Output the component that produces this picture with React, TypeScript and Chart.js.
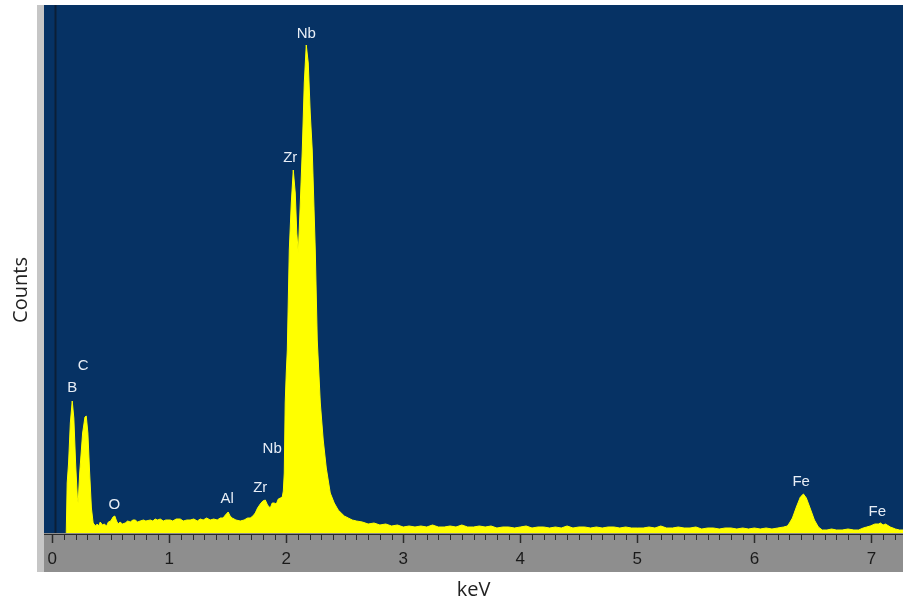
import React, { useEffect, useRef } from "react";
import { Chart, registerables } from "chart.js";

Chart.register(...registerables);

// Spectrum: energy (keV) and counts
const energyKeV: number[] = [
  0.12, 0.128, 0.14, 0.155, 0.171, 0.185, 0.2, 0.215, 0.222, 0.235, 0.26, 0.28, 0.291, 0.305, 0.32, 0.335, 0.35,
  0.37, 0.385, 0.4, 0.41, 0.43, 0.444, 0.465, 0.48, 0.5, 0.52, 0.535, 0.55, 0.564, 0.58, 0.6, 0.624, 0.645, 0.667,
  0.69, 0.709, 0.73, 0.752, 0.78, 0.8, 0.838, 0.86, 0.88, 0.9, 0.923, 0.95, 0.97, 1.009, 1.03, 1.06, 1.094, 1.12,
  1.15, 1.179, 1.21, 1.24, 1.265, 1.29, 1.32, 1.35, 1.38, 1.41, 1.436, 1.46, 1.48, 1.504, 1.52, 1.538, 1.57, 1.607,
  1.64, 1.67, 1.692, 1.715, 1.735, 1.755, 1.778, 1.8, 1.821, 1.84, 1.863, 1.88, 1.897, 1.915, 1.932, 1.95, 1.966,
  1.975, 1.983, 1.991, 2.0, 2.009, 2.026, 2.043, 2.06, 2.077, 2.09, 2.103, 2.12, 2.137, 2.154, 2.171, 2.188, 2.205,
  2.222, 2.248, 2.265, 2.291, 2.316, 2.342, 2.376, 2.41, 2.444, 2.47, 2.496, 2.53, 2.564, 2.6, 2.65, 2.7, 2.75, 2.8,
  2.85, 2.9, 2.95, 3.0, 3.05, 3.1, 3.15, 3.2, 3.25, 3.3, 3.35, 3.4, 3.45, 3.5, 3.55, 3.6, 3.65, 3.7, 3.75, 3.8, 3.85,
  3.9, 3.95, 4.0, 4.05, 4.1, 4.15, 4.2, 4.25, 4.3, 4.35, 4.4, 4.45, 4.5, 4.55, 4.6, 4.65, 4.7, 4.75, 4.8, 4.85, 4.9,
  4.95, 5.0, 5.05, 5.1, 5.15, 5.2, 5.25, 5.3, 5.35, 5.4, 5.45, 5.5, 5.55, 5.6, 5.65, 5.7, 5.75, 5.8, 5.85, 5.9, 5.95,
  6.0, 6.05, 6.1, 6.15, 6.2, 6.25, 6.282, 6.3, 6.325, 6.359, 6.393, 6.419, 6.444, 6.479, 6.513, 6.547, 6.58, 6.62,
  6.66, 6.7, 6.75, 6.8, 6.85, 6.89, 6.93, 6.96, 6.99, 7.03, 7.06, 7.077, 7.1, 7.12, 7.162, 7.205, 7.24, 7.27,
];

const counts: number[] = [
  0, 500, 700, 1100, 1320, 1150, 700, 350, 300, 600, 1000, 1160, 1170, 1000, 600, 250, 100,
  70, 90, 70, 110, 80, 90, 70, 110, 120, 160, 170, 120, 90, 110, 90, 100, 120, 110,
  130, 130, 110, 120, 130, 120, 130, 120, 140, 130, 140, 120, 130, 130, 120, 140, 140, 120,
  130, 130, 140, 120, 140, 130, 150, 130, 140, 130, 150, 150, 180, 210, 170, 150, 130, 120,
  130, 150, 150, 170, 200, 250, 290, 320, 330, 280, 250, 300, 300, 290, 340, 350, 360,
  420, 600, 1300, 1600, 1830, 2830, 3300, 3630, 3400, 3000, 2800, 3300, 3830, 4500, 4880, 4700, 4200,
  3830, 2830, 1930, 1300, 930, 650, 400, 300, 230, 200, 170, 150, 130, 120, 110, 90, 100, 80,
  90, 70, 80, 60, 70, 60, 70, 60, 80, 60, 60, 70, 60, 80, 60, 60, 70, 60, 70, 50, 60,
  60, 50, 60, 70, 50, 60, 60, 50, 60, 50, 70, 50, 60, 60, 50, 60, 50, 60, 60, 50, 60,
  50, 50, 50, 60, 50, 70, 50, 50, 60, 50, 50, 60, 40, 50, 50, 40, 50, 50, 40, 50, 40,
  50, 40, 50, 40, 50, 60, 70, 100, 150, 260, 360, 390, 350, 240, 130, 60, 30, 30,
  40, 30, 30, 40, 30, 30, 50, 60, 70, 90, 90, 100, 80, 90, 60, 40, 30, 30,
];

// Peak annotations
const peakNames: string[] = ["B", "C", "O", "Al", "Zr", "Nb", "Zr", "Nb", "Fe", "Fe"];
const peakKeV: number[] = [0.171, 0.265, 0.53, 1.496, 1.778, 1.88, 2.034, 2.171, 6.4, 7.05];
const peakLabelCounts: number[] = [1450, 1670, 280, 340, 450, 840, 3750, 4990, 510, 210];

// Axis ticks
const xMajorTicks: number[] = [0, 1, 2, 3, 4, 5, 6, 7];
const xMin = -0.07;
const xMax = 7.27;
const yMax = 5280;

const BLUE = "#063264";
const YELLOW = "#ffff00";

const decorPlugin = {
  id: "decor",
  beforeDraw(chart: any) {
    const { ctx, chartArea: a } = chart;
    ctx.save();
    ctx.fillStyle = "#c6c6c6";
    ctx.fillRect(a.left - 7, a.top, 7, a.bottom + 39 - a.top);
    ctx.fillStyle = BLUE;
    ctx.fillRect(a.left, a.top, a.right - a.left, a.bottom - a.top);
    ctx.fillStyle = "#8e8e8e";
    ctx.fillRect(a.left, a.bottom, a.right - a.left, 39);
    ctx.restore();
  },
  beforeDatasetsDraw(chart: any) {
    const { ctx, chartArea: a, scales } = chart;
    const px = Math.round(scales.x.getPixelForValue(0.025)) + 0.5;
    ctx.save();
    ctx.strokeStyle = "#0b1e36";
    ctx.lineWidth = 2;
    ctx.beginPath();
    ctx.moveTo(px, a.top);
    ctx.lineTo(px, a.bottom);
    ctx.stroke();
    ctx.restore();
  },
  afterDraw(chart: any) {
    const { ctx, chartArea: a, scales } = chart;
    const x = scales.x;
    const y = scales.y;
    ctx.save();
    // tick marks
    ctx.strokeStyle = "#2a2a2a";
    ctx.lineWidth = 1;
    ctx.beginPath();
    ctx.moveTo(a.left, a.bottom + 1.5);
    ctx.lineTo(a.right, a.bottom + 1.5);
    ctx.stroke();
    for (let i = 0; i <= 72; i++) {
      const v = i / 10;
      const px = Math.round(x.getPixelForValue(v)) + 0.5;
      if (px < a.left || px > a.right) continue;
      const major = i % 10 === 0;
      ctx.lineWidth = major ? 1.5 : 1;
      ctx.beginPath();
      ctx.moveTo(px, a.bottom + 1);
      ctx.lineTo(px, a.bottom + (major ? 10 : 7));
      ctx.stroke();
    }
    // peak labels
    ctx.fillStyle = "#e8eef6";
    ctx.font = "15px 'Liberation Sans', Arial, sans-serif";
    ctx.textAlign = "center";
    ctx.textBaseline = "middle";
    peakNames.forEach((n, i) => {
      ctx.fillText(n, x.getPixelForValue(peakKeV[i]), y.getPixelForValue(peakLabelCounts[i]));
    });
    // y title
    ctx.fillStyle = "#222";
    ctx.font = "20px 'Open Sans', sans-serif";
    ctx.translate(21, 290);
    ctx.rotate(-Math.PI / 2);
    ctx.fillText("Counts", 0, 0);
    ctx.restore();
  },
};

export default function App() {
  const canvasRef = useRef<HTMLCanvasElement | null>(null);

  useEffect(() => {
    if (!canvasRef.current) return;
    const points = energyKeV.map((e, i) => ({ x: e, y: counts[i] }));
    const chart = new Chart(canvasRef.current, {
      type: "line",
      data: {
        datasets: [
          {
            data: points,
            fill: "origin",
            backgroundColor: YELLOW,
            borderColor: YELLOW,
            borderWidth: 1,
            pointRadius: 0,
            tension: 0,
          },
        ],
      },
      options: {
        animation: false,
        responsive: true,
        maintainAspectRatio: false,
        layout: { padding: { top: 5, right: 0, left: 0, bottom: 0 } },
        plugins: { legend: { display: false }, tooltip: { enabled: false } },
        scales: {
          x: {
            type: "linear",
            min: xMin,
            max: xMax,
            afterFit: (s: any) => {
              s.height = 70;
            },
            afterBuildTicks: (s: any) => {
              s.ticks = xMajorTicks.map((v) => ({ value: v }));
            },
            grid: { display: false, drawTicks: false },
            border: { display: false },
            ticks: {
              padding: 16,
              color: "#1a1a1a",
              font: { family: "'Liberation Sans', Arial, sans-serif", size: 17 },
              callback: (v: any) => String(v),
            },
            title: {
              display: true,
              text: "keV",
              color: "#222",
              font: { family: "'Open Sans', sans-serif", size: 20 },
              padding: { top: 0, bottom: 1 },
            },
          },
          y: {
            min: 0,
            max: yMax,
            afterFit: (s: any) => {
              s.width = 44;
            },
            grid: { display: false, drawTicks: false },
            border: { display: false },
            ticks: { display: false },
          },
        },
      },
      plugins: [decorPlugin],
    });
    return () => chart.destroy();
  }, []);

  return (
    <div style={{ position: "fixed", left: 0, top: 0, width: 903, height: 603, background: "#fff" }}>
      <canvas ref={canvasRef} />
    </div>
  );
}
